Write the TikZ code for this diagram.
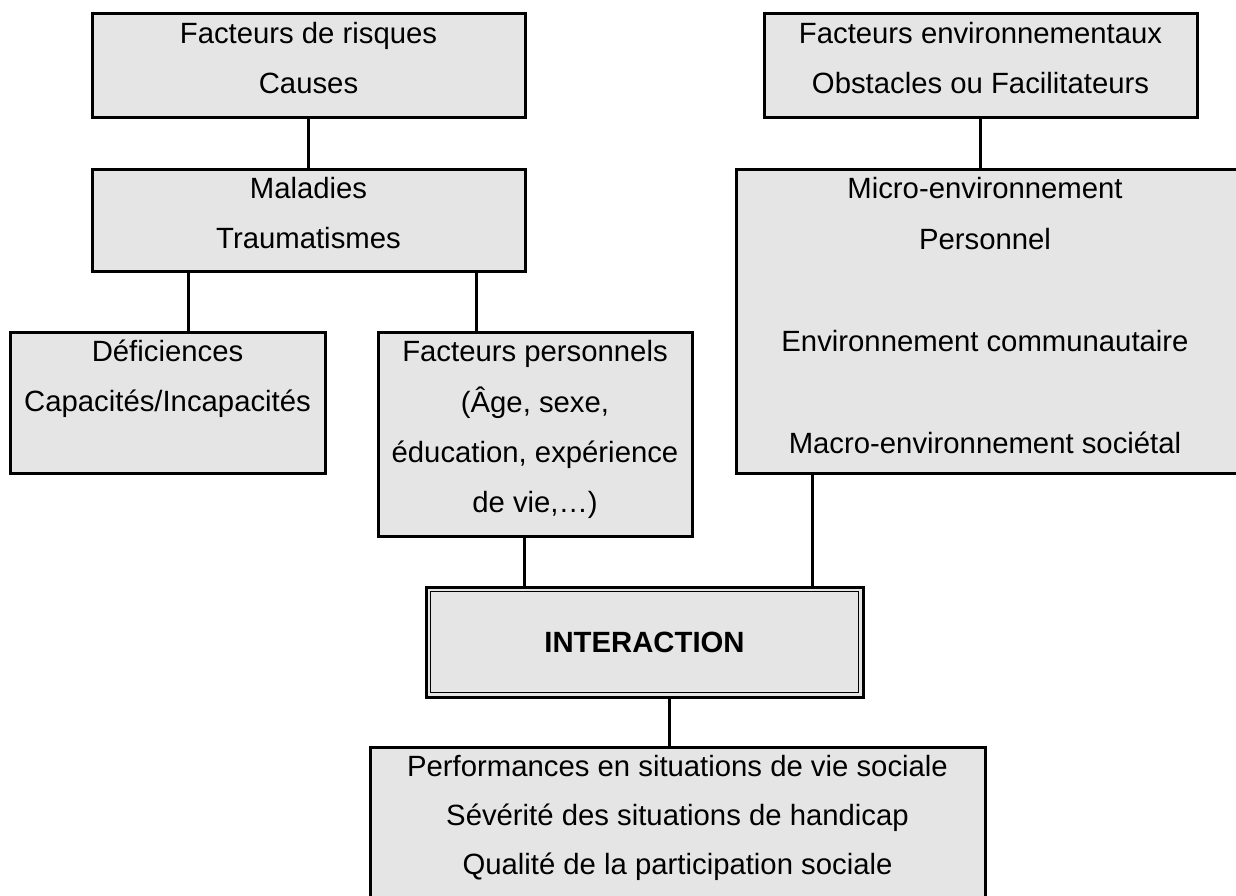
\documentclass[tikz,border=0pt]{standalone}
\usepackage{fontspec}
\setmainfont{Liberation Sans}
\begin{document}
\begin{tikzpicture}[x=1pt,y=-1pt,
  box/.style={draw=black, fill=black!10, line width=3pt, inner sep=0pt, rectangle},
  txt/.style={anchor=base, inner sep=0pt, font=\fontsize{29.3}{50}\selectfont},
  link/.style={draw=black, line width=3pt}]
\useasboundingbox (0,0) rectangle (1236,895);
% boxes
\node[box, minimum width=433pt, minimum height=104pt] (risk) at (308.5,65) {};
\node[box, minimum width=433pt, minimum height=104pt] (env) at (980.5,65) {};
\node[box, minimum width=433pt, minimum height=102pt] (mal) at (308.5,220) {};
\node[box, minimum width=504pt, minimum height=304pt] (micro) at (988,321) {};
\node[box, minimum width=315pt, minimum height=141pt] (def) at (167.5,402.5) {};
\node[box, minimum width=314pt, minimum height=204pt] (fp) at (535,434) {};
\node[box, minimum width=437pt, minimum height=110pt] (inter) at (644.5,642) {};
\draw[line width=1.5pt] ([shift={(6,6)}]inter.north west) rectangle ([shift={(-6,-6)}]inter.south east);
\node[box, minimum width=615pt, minimum height=153pt] (bot) at (677.5,823.5) {};
% texts
\node[txt] (t1) at (308.5,43) {Facteurs de risques};
\node[txt] (t2) at (308.5,93) {Causes};
\node[txt] (t3) at (980.5,43) {Facteurs environnementaux};
\node[txt] (t4) at (980.5,93) {Obstacles ou Facilitateurs};
\node[txt] (t5) at (308.5,198) {Maladies};
\node[txt] (t6) at (308.5,248) {Traumatismes};
\node[txt] (t7) at (985,198) {Micro-environnement};
\node[txt] (t8) at (985,249) {Personnel};
\node[txt] (t9) at (985,351) {Environnement communautaire};
\node[txt] (t10) at (985,453) {Macro-environnement sociétal};
\node[txt] (t11) at (167.5,361) {Déficiences};
\node[txt] (t12) at (167.5,411) {Capacités/Incapacités};
\node[txt] (t13) at (535,361) {Facteurs personnels};
\node[txt] (t14) at (535,412) {(Âge, sexe,};
\node[txt] (t15) at (535,462) {éducation, expérience};
\node[txt] (t16) at (535,512) {de vie,…)};
\node[txt, font=\fontsize{29.3}{50}\selectfont\bfseries] (t17) at (644.5,652) {INTERACTION};
\node[txt] (t18) at (677.5,776) {Performances en situations de vie sociale};
\node[txt] (t19) at (677.5,825) {Sévérité des situations de handicap};
\node[txt] (t20) at (677.5,874) {Qualité de la participation sociale};
% connectors
\draw[link] (risk.south) -- (mal.north);
\draw[link] (env.south) -- (env.south |- micro.north);
\draw[link] (188,0 |- mal.south) -- (188,0 |- def.north);
\draw[link] (476,0 |- mal.south) -- (476,0 |- fp.north);
\draw[link] (524,0 |- fp.south) -- (524,0 |- inter.north);
\draw[link] (812,0 |- micro.south) -- (812,0 |- inter.north);
\draw[link] (669,0 |- inter.south) -- (669,0 |- bot.north);
\end{tikzpicture}
\end{document}
